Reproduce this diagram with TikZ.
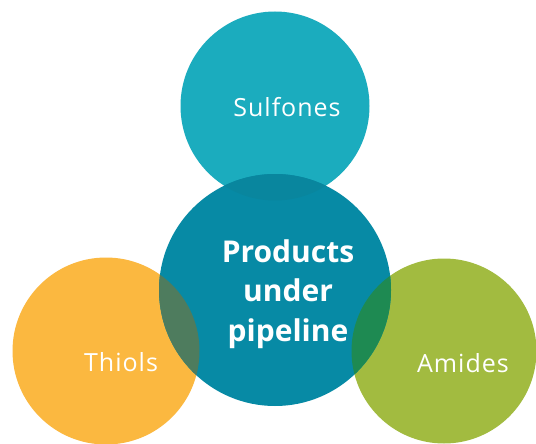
\documentclass[tikz,border=0pt]{standalone}
\usepackage{fontspec}
\setmainfont{Open Sans}
\usetikzlibrary{positioning}

\definecolor{sulfcol}{RGB}{27,172,190}
\definecolor{corecol}{RGB}{7,138,165}
\definecolor{thiolcol}{RGB}{251,184,64}
\definecolor{amidecol}{RGB}{162,187,64}
\definecolor{mixtop}{RGB}{9,134,158}
\definecolor{mixleft}{RGB}{78,124,94}
\definecolor{mixright}{RGB}{30,138,82}

\begin{document}
\begin{tikzpicture}[x=1pt,y=-1pt,
		bubble/.style={circle,inner sep=0pt,minimum size=#1},
		light/.style={text=white,font=\fontsize{25}{29}\selectfont\addfontfeature{LetterSpace=4}},
		heavy/.style={text=white,align=center,font=\fontsize{30}{39.5}\selectfont\bfseries}]
	\useasboundingbox[fill=white] (0,0) rectangle (536,444);

	% outer circles
	\node[bubble=189pt,fill=sulfcol] (sulf) at (275,106) {};
	\node[bubble=187pt,fill=thiolcol] (thiol) at (106,351) {};
	\node[bubble=185pt,fill=amidecol] (amide) at (444,351) {};

	% central circle
	\node[bubble=232pt,fill=corecol] (core) at (275,290) {};

	% overlaps
	\begin{scope}
		\clip (core.center) circle[radius=116pt];
		\fill[mixtop] (sulf.center) circle[radius=94.5pt];
		\fill[mixleft] (thiol.center) circle[radius=93.5pt];
		\fill[mixright] (amide.center) circle[radius=92.5pt];
	\end{scope}

	% labels
	\node[light] (sulftxt) at (287,107) {Sulfones};
	\node[light] (thioltxt) at (121,362) {Thiols};
	\node[light] (amidetxt) at (463,363) {Amides};
	\node[heavy] (coretxt) at (288,294) {Products\\under\\pipeline};
\end{tikzpicture}
\end{document}
